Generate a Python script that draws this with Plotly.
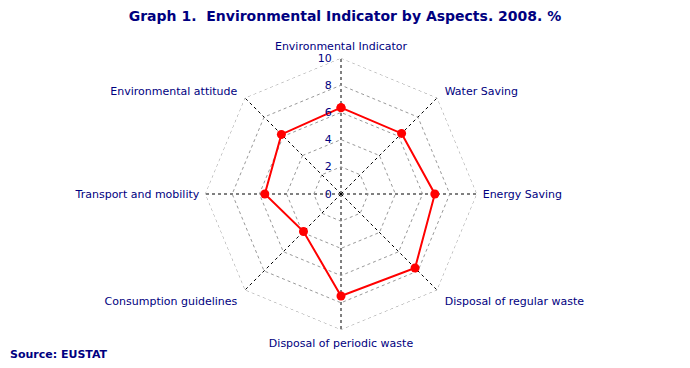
import plotly.graph_objects as go

categories = ["Environmental Indicator", "Water Saving", "Energy Saving",
              "Disposal of regular waste", "Disposal of periodic waste",
              "Consumption guidelines", "Transport and mobility",
              "Environmental attitude"]
values = [6.35, 6.3, 6.9, 7.7, 7.5, 3.9, 5.6, 6.2]
radial_ticks = [0, 2, 4, 6, 8, 10]
outer = [10] * len(categories)

navy = "#000080"
font = "DejaVu Sans, Verdana, sans-serif"
nb = "\u00a0"
# small padding so diagonal labels sit a little further from the grid
angular_text = [categories[0], nb + categories[1], categories[2],
                nb + categories[3], categories[4], categories[5] + nb,
                categories[6], categories[7] + nb]

fig = go.Figure()
fig.add_trace(go.Scatterpolar(
    r=outer + outer[:1],
    theta=categories + categories[:1],
    mode="lines",
    line=dict(color="#999999", width=1, dash="3px,3px"),
    hoverinfo="skip", showlegend=False,
))
fig.add_trace(go.Scatterpolar(
    r=values + values[:1],
    theta=categories + categories[:1],
    mode="lines+markers",
    line=dict(color="#ff0000", width=2),
    marker=dict(color="#ff0000", size=9),
    showlegend=False,
))

fig.update_layout(
    width=690, height=368,
    margin=dict(l=0, r=0, t=0, b=0),
    paper_bgcolor="white",
    font=dict(family=font, size=11, color=navy),
    title=dict(text="<b>Graph 1.  Environmental Indicator by Aspects. 2008. %</b>",
               x=0.5, xanchor="center", y=1-16/368, yanchor="middle",
               font=dict(family=font, size=14, color=navy)),
    polar=dict(
        domain=dict(x=[205/690, 477/690], y=[1-330/368, 1-58/368]),
        bgcolor="white",
        gridshape="linear",
        angularaxis=dict(
            direction="clockwise", rotation=90,
            showline=False,
            gridcolor="black", griddash="3px,3px", gridwidth=1,
            tickmode="array", tickvals=categories, ticktext=angular_text,
            ticks="outside", ticklen=3, tickcolor="rgba(0,0,0,0)",
            tickfont=dict(family=font, size=11, color=navy),
        ),
        radialaxis=dict(
            range=[0, 10], tickvals=radial_ticks,
            ticktext=[str(t) + nb + nb for t in radial_ticks],
            angle=90, side="counterclockwise", tickangle=90,
            showline=False, ticks="",
            gridcolor="#999999", griddash="3px,3px", gridwidth=1,
            tickfont=dict(family=font, size=11, color=navy),
        ),
    ),
    annotations=[dict(text="<b>Source: EUSTAT</b>", x=8/690, y=1-354/368,
                      xref="paper", yref="paper", xanchor="left", yanchor="middle",
                      showarrow=False, font=dict(family=font, size=11, color=navy))],
)

fig.write_html("out.html", config={"displayModeBar": False},
               post_script="document.body.style.margin='0';")
